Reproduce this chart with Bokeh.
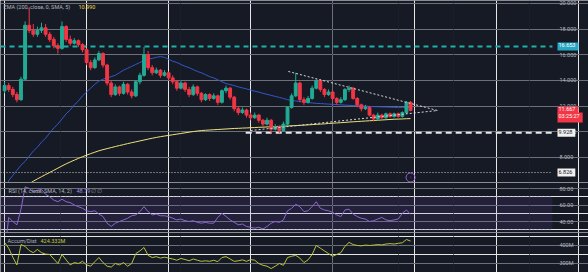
import numpy as np
from bokeh.plotting import figure
from bokeh.layouts import column
from bokeh.models import (Range1d, FixedTicker, Label, BoxAnnotation, Grid, LinearAxis,
                          ColumnDataSource, PrintfTickFormatter)
from bokeh.core.properties import value
from bokeh.embed import file_html
from bokeh.resources import INLINE

# ---------------- data ----------------
opens = [13.2, 13.6, 13.3, 12.9, 12.5, 14.1, 18.3, 17.9, 17.6, 17.9,
         18.1, 17.6, 17.2, 16.7, 16.5, 18.2, 17.2, 16.9, 17.1, 16.8,
         16.4, 15.4, 15.0, 15.6, 16.1, 15.2, 13.8, 12.9, 13.5, 13.0,
         13.7, 13.1, 12.8, 13.9, 14.4, 16.0, 15.0, 14.6, 14.8, 14.4,
         14.6, 14.2, 13.9, 13.4, 13.8, 13.3, 12.9, 13.5, 13.0, 12.5,
         12.9, 12.6, 12.8, 12.3, 13.2, 13.4, 12.7, 11.8, 11.5, 11.7,
         11.3, 11.1, 11.3, 10.9, 10.6, 10.9, 10.2, 10.4, 10.1, 10.6,
         11.9, 12.8, 13.8, 12.5, 12.3, 12.6, 13.4, 14.0, 13.3, 12.9,
         13.1, 12.6, 12.3, 12.5, 13.3, 13.4, 12.6, 12.1, 11.8, 11.9,
         11.3, 11.0, 11.3, 11.1, 11.4, 11.2, 11.4, 11.2, 11.5, 12.3]
highs = [13.9, 13.8, 13.5, 13.1, 14.3, 18.6, 19.7, 18.4, 18.2, 18.5,
         18.4, 17.8, 17.4, 16.9, 18.6, 18.3, 17.5, 17.3, 17.2, 16.9,
         16.5, 15.6, 15.8, 16.3, 16.2, 15.3, 14.0, 13.7, 13.6, 13.9,
         13.8, 13.3, 14.0, 14.6, 16.6, 16.3, 15.2, 15.0, 14.9, 14.8,
         14.7, 14.4, 14.0, 14.0, 13.9, 13.5, 13.7, 13.6, 13.1, 13.0,
         13.0, 13.0, 12.9, 13.3, 13.6, 13.5, 12.8, 12.0, 11.9, 11.8,
         11.5, 11.5, 11.4, 11.0, 11.1, 11.0, 10.6, 10.5, 10.8, 12.0,
         13.0, 14.6, 13.9, 12.7, 12.8, 13.6, 14.1, 14.1, 13.4, 13.3,
         13.2, 12.7, 12.7, 13.4, 13.6, 13.5, 12.7, 12.2, 12.1, 12.0,
         11.4, 11.5, 11.4, 11.5, 11.5, 11.5, 11.5, 11.6, 12.4, 12.4]
lows = [13.0, 13.1, 12.7, 12.3, 12.4, 14.0, 17.7, 17.4, 17.4, 17.7,
        17.4, 17.0, 16.5, 16.1, 16.4, 17.0, 16.7, 16.8, 16.6, 16.2,
        15.2, 14.8, 14.9, 15.5, 15.0, 13.6, 12.7, 12.8, 12.8, 12.9,
        12.9, 12.6, 12.7, 13.7, 14.3, 14.8, 14.4, 14.5, 14.2, 14.3,
        14.0, 13.7, 13.2, 13.3, 13.1, 12.7, 12.8, 12.8, 12.3, 12.4,
        12.4, 12.5, 12.1, 12.2, 13.0, 12.5, 11.6, 11.3, 11.4, 11.1,
        10.9, 11.0, 10.7, 10.4, 10.5, 9.9, 10.1, 9.9, 10.0, 10.5,
        11.8, 12.7, 12.3, 12.1, 12.2, 12.5, 13.3, 13.1, 12.7, 12.8,
        12.4, 12.1, 12.2, 12.4, 13.1, 12.5, 11.9, 11.6, 11.7, 11.2,
        10.8, 10.9, 11.0, 11.0, 11.1, 11.1, 11.1, 11.1, 11.4, 11.6]
closes = [13.6, 13.3, 12.9, 12.5, 14.1, 18.3, 17.9, 17.6, 17.9, 18.1,
          17.6, 17.2, 16.7, 16.5, 18.2, 17.2, 16.9, 17.1, 16.8, 16.4,
          15.4, 15.0, 15.6, 16.1, 15.2, 13.8, 12.9, 13.5, 13.0, 13.7,
          13.1, 12.8, 13.9, 14.4, 16.0, 15.0, 14.6, 14.8, 14.4, 14.6,
          14.2, 13.9, 13.4, 13.8, 13.3, 12.9, 13.5, 13.0, 12.5, 12.9,
          12.6, 12.8, 12.3, 13.2, 13.4, 12.7, 11.8, 11.5, 11.7, 11.3,
          11.1, 11.3, 10.9, 10.6, 10.9, 10.2, 10.4, 10.1, 10.6, 11.9,
          12.8, 13.8, 12.5, 12.3, 12.6, 13.4, 14.0, 13.3, 12.9, 13.1,
          12.6, 12.3, 12.5, 13.3, 13.4, 12.6, 12.1, 11.8, 11.9, 11.3,
          11.0, 11.3, 11.1, 11.4, 11.2, 11.4, 11.2, 11.5, 12.3, 11.667]

ema_blue = [None, 6.2, 6.6, 7.0, 7.4, 7.7, 8.1, 8.5, 8.8, 9.2,
            9.5, 9.9, 10.3, 10.6, 11.0, 11.4, 11.7, 12.1, 12.4, 12.8,
            13.1, 13.4, 13.7, 13.95, 14.1, 14.2, 14.3, 14.4, 14.6, 14.8,
            14.95, 15.1, 15.25, 15.4, 15.55, 15.65, 15.72, 15.8, 15.86, 15.8,
            15.65, 15.5, 15.4, 15.25, 15.1, 15.0, 14.85, 14.7, 14.6, 14.45,
            14.3, 14.2, 14.05, 13.9, 13.76, 13.68, 13.6, 13.5, 13.42, 13.34,
            13.25, 13.17, 13.09, 13.0, 12.92, 12.84, 12.76, 12.68, 12.6, 12.5,
            12.44, 12.4, 12.36, 12.32, 12.28, 12.25, 12.22, 12.2, 12.18, 12.16,
            12.14, 12.12, 12.1, 12.08, 12.06, 12.05, 12.04, 12.02, 12.0, 11.98,
            11.96, 11.95, 11.94, 11.93, 11.92, 11.91, 11.9, 11.9, 11.9, 11.9]
ema_200 = [None, None, None, None, None, None, 5.95, 6.15, 6.33, 6.5,
           6.67, 6.83, 7.0, 7.17, 7.34, 7.5, 7.65, 7.79, 7.93, 8.06,
           8.18, 8.3, 8.41, 8.52, 8.61, 8.69, 8.77, 8.85, 8.93, 9.0,
           9.08, 9.15, 9.22, 9.29, 9.36, 9.43, 9.5, 9.56, 9.62, 9.67,
           9.72, 9.77, 9.82, 9.87, 9.92, 9.97, 10.02, 10.06, 10.1, 10.12,
           10.14, 10.16, 10.18, 10.2, 10.22, 10.24, 10.26, 10.27, 10.29, 10.3,
           10.32, 10.33, 10.35, 10.36, 10.38, 10.39, 10.41, 10.42, 10.44, 10.45,
           10.47, 10.48, 10.5, 10.52, 10.54, 10.56, 10.58, 10.6, 10.62, 10.65,
           10.67, 10.69, 10.71, 10.73, 10.76, 10.78, 10.8, 10.82, 10.84, 10.86,
           10.88, 10.9, 10.92, 10.94, 10.96, 10.98, 10.99, 11.0, 11.02, 11.03]
rsi = [None, 45, 40, 36, 55, 82, 80, 76, 78, 79,
       73, 70, 66, 64, 67, 64, 63, 60, 58, 56,
       53, 52, 53, 49, 46, 38, 34, 38, 40, 42,
       44, 47, 48, 52, 58, 52, 48, 49, 47, 47,
       46, 44, 42, 43, 41, 40, 41, 39, 38, 39,
       38, 38, 45, 50, 46, 42, 39, 36, 37, 34,
       33, 32, 33, 31, 34, 38, 40, 39, 42, 53,
       56, 61, 58, 52, 53, 58, 64, 56, 54, 53,
       51, 48, 46, 54, 55, 49, 46, 44, 43, 40,
       41, 43, 45, 42, 41, 42, 43, 50, 54, 48.79]
accum_dist = [417, 385, 335, 292, 405, 395, 372, 360, 378, 360,
              352, 350, 325, 300, 350, 320, 292, 305, 300, 312,
              292, 285, 310, 333, 305, 285, 280, 300, 292, 305,
              285, 300, 355, 370, 389, 345, 333, 338, 330, 335,
              330, 325, 318, 328, 322, 315, 325, 318, 312, 315,
              312, 318, 310, 333, 338, 325, 312, 315, 320, 312,
              322, 318, 300, 290, 285, 272, 285, 300, 290, 333,
              340, 345, 330, 305, 320, 350, 400, 385, 370, 355,
              340, 350, 360, 395, 417, 405, 400, 398, 402, 400,
              402, 405, 403, 408, 410, 408, 412, 415, 433, 424.332]

price_ticks = [8, 10, 12, 14, 16, 18, 20]
rsi_ticks = [40, 60, 80]
ad_ticks = [300, 400]
ad_tick_labels = {300: "300M", 400: "400M"}

level_cyan = 16.653
level_white = 9.928
level_dotted = 6.826
white_level_start = 58.8
upper_trend_x = [69.2, 105.6]
upper_trend_y = [14.70, 11.66]
lower_trend_x = [60.0, 105.6]
lower_trend_y = [10.10, 11.66]
event_price = 6.44
rsi_band = (30, 70)
time_grid = [13.6, 43.0, 80.0, 96.0, 109.5, 128.0]

# ---------------- styling ----------------
BG = "#161a25"
GRID = "#1e2230"
TXT = "#b2b5be"
UP = "#22ab94"
DOWN = "#f23645"
FONT = "Roboto"
FS = "5.5px"

X_START = -1.0
X_END = 142.4       # whole window width belongs to the chart area
AXIS_X = 133.6      # price scale sits here (right edge of the pane)

n = len(closes)
idx = np.arange(n)
o = np.array(opens, dtype=float)
c = np.array(closes, dtype=float)
src = ColumnDataSource(dict(
    x=idx, open=o, close=c, high=np.array(highs, dtype=float), low=np.array(lows, dtype=float),
    top=np.maximum(o, c), bottom=np.minimum(o, c),
    color=np.where(c >= o, UP, DOWN),
))

xr = Range1d(X_START, X_END)


def make_fig(h, yr, ticks):
    p = figure(width=588, height=h, x_range=xr, y_range=yr, output_backend="svg",
               toolbar_location=None, x_axis_location=None, y_axis_location=None,
               min_border=0)
    p.background_fill_color = BG
    p.border_fill_color = BG
    p.outline_line_color = None
    ax = LinearAxis(fixed_location=AXIS_X, ticker=FixedTicker(ticks=ticks))
    ax.axis_line_color = None
    ax.major_tick_line_color = None
    ax.minor_tick_line_color = None
    ax.major_tick_out = 0
    ax.major_tick_in = 0
    ax.major_label_standoff = 7
    ax.major_label_text_font_size = FS
    ax.major_label_text_color = TXT
    ax.major_label_text_font = FONT
    p.add_layout(ax, "right")
    p.add_layout(Grid(dimension=1, ticker=FixedTicker(ticks=ticks), grid_line_color=GRID,
                      grid_line_alpha=0.6))
    p.add_layout(Grid(dimension=0, ticker=FixedTicker(ticks=time_grid), grid_line_color=GRID,
                      grid_line_alpha=0.6))
    return p, ax


def text(p, x, y, s, color=TXT):
    p.add_layout(Label(x=x, x_units="screen", y=y, text=s, text_color=color,
                       text_font=FONT, text_font_size=FS, text_baseline="middle"))


def tag(p, y, s, bg, fg):
    p.add_layout(Label(x=557, x_units="screen", y=y, text=s, text_color=fg,
                       text_font=FONT, text_font_size=FS, text_baseline="middle",
                       background_fill_color=bg, padding=(1, 3, 1, 3)))


# ---------------- main price pane ----------------
p1, ax1 = make_fig(182, Range1d(6.05, 20.23), price_ticks)
ax1.formatter = PrintfTickFormatter(format="%.3f")

p1.segment(x0=[X_START], y0=[level_cyan], x1=[AXIS_X], y1=[level_cyan],
           line_color="#1fb0aa", line_width=2, line_dash="5 4")
p1.segment(x0=[white_level_start], y0=[level_white], x1=[AXIS_X], y1=[level_white],
           line_color="#e8e8e8", line_width=2, line_dash="6 4")
p1.segment(x0=[X_START], y0=[level_dotted], x1=[AXIS_X], y1=[level_dotted],
           line_color="#d0d0d0", line_width=1, line_dash="1 2")

p1.line(idx, ema_200, line_color="#efe27a", line_width=1)
p1.line(idx, ema_blue, line_color="#3457c9", line_width=1)

p1.segment(x0="x", y0="low", x1="x", y1="high", line_color="color", line_width=1, source=src)
p1.vbar(x="x", width=0.7, top="top", bottom="bottom", fill_color="color",
        line_color="color", source=src)

p1.line(upper_trend_x, upper_trend_y, line_color="#d8d8d8", line_width=1, line_dash="2 2")
p1.line(lower_trend_x, lower_trend_y, line_color="#d8d8d8", line_width=1, line_dash="2 2")

p1.scatter(x=[n - 1], y=[event_price], marker="circle", size=9, fill_color=None,
           line_color="#9b5fd6", line_width=1)
p1.text(x=[n - 1], y=[event_price], text=["ϟ"], text_color="#9b5fd6",
        text_font=value(FONT), text_font_size="5px", text_align="center",
        text_baseline="middle")

text(p1, 3, 19.76, "EMA (200, close, 0, SMA, 5)")
text(p1, 78, 19.76, "10.990", "#e8d94a")

tag(p1, level_cyan, "16.653", "#27a7c6", "#ffffff")
tag(p1, level_white, "9.928", "#f0f0f0", "#131722")
tag(p1, level_dotted, "6.826", "#f0f0f0", "#131722")
tag(p1, closes[-1], "11.667", DOWN, "#ffffff")
tag(p1, closes[-1] - 0.55, "03:25:27", DOWN, "#ffffff")

# ---------------- RSI pane ----------------
p2, ax2 = make_fig(50, Range1d(26.7, 87.3), rsi_ticks)
ax2.formatter = PrintfTickFormatter(format="%.2f")
p2.add_layout(BoxAnnotation(bottom=rsi_band[0], top=rsi_band[1], right=AXIS_X,
                            fill_color="#7e57c2", fill_alpha=0.13, line_color=None))
for lv in rsi_band:
    p2.segment(x0=[X_START], y0=[lv], x1=[AXIS_X], y1=[lv], line_color="#787b86",
               line_alpha=0.5, line_width=1, line_dash="2 2")
p2.line(idx, rsi, line_color="#8c6bd1", line_width=1)
text(p2, 8, 77.6, "RSI (14, close, SMA, 14, 2)")
text(p2, 76, 77.6, "48.79", "#a58be0")
text(p2, 90, 77.6, "∅  ∅", "#8a8d96")

# ---------------- Accum/Dist pane ----------------
p3, ax3 = make_fig(40, Range1d(250, 472), ad_ticks)
ax3.major_label_overrides = ad_tick_labels
p3.line(idx, accum_dist, line_color="#b9c23b", line_width=1)
text(p3, 7, 427.6, "Accum/Dist")
text(p3, 40, 427.6, "424.332M", "#c2ca3e")

layout = column(p1, p2, p3, spacing=0)
open("out.html", "w").write(file_html(layout, INLINE))
